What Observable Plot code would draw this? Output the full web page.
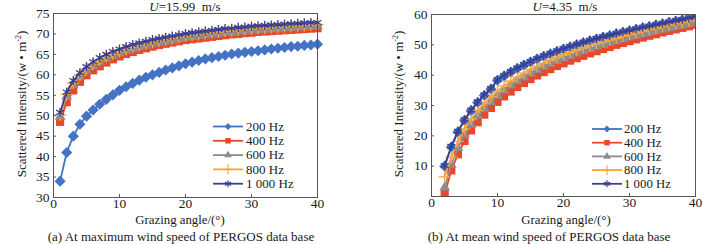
<!DOCTYPE html>
<html><head><meta charset="utf-8">
<script src="https://cdn.jsdelivr.net/npm/d3@7"></script>
<script src="https://cdn.jsdelivr.net/npm/@observablehq/plot@0.6"></script>
<style>
body{margin:0;background:#fff;}
#wrap{position:relative;width:717px;height:244px;overflow:hidden;font-family:"Liberation Serif","Times New Roman",serif;}
#wrap svg{position:absolute;top:0;}
</style></head><body><div id="wrap"></div>
<script>
// ---------- data ----------
const freqs = ["200 Hz", "400 Hz", "600 Hz", "800 Hz", "1 000 Hz"];
const colors = ["#4472c4", "#e8472b", "#8c8c8c", "#f5a43f", "#3b3f91"];
const symbols = ["diamond2", "square", "triangle", "plus", "asterisk"];
const xTicks = [0, 10, 20, 30, 40];
const yTicksA = [30, 35, 40, 45, 50, 55, 60, 65, 70, 75];
const yTicksB = [10, 20, 30, 40, 50, 60];

// panel (a): U = 15.99 m/s, grazing angles 1..40
const anglesA = [1,2,3,4,5,6,7,8,9,10,11,12,13,14,15,16,17,18,19,20,21,22,23,24,25,26,27,28,29,30,31,32,33,34,35,36,37,38,39,40];
const a200 = [34.0,41.0,45.0,47.9,49.9,51.4,52.8,54.0,55.1,56.2,57.1,57.9,58.7,59.4,60.0,60.6,61.2,61.7,62.2,62.7,63.1,63.5,63.9,64.2,64.5,64.8,65.1,65.3,65.5,65.7,65.9,66.1,66.3,66.5,66.7,66.9,67.0,67.2,67.3,67.5];
const a400 = [48.5,53.3,56.2,58.3,59.9,61.1,62.1,63.0,63.8,64.5,65.1,65.6,66.1,66.5,66.9,67.3,67.6,67.9,68.2,68.5,68.7,68.9,69.1,69.3,69.5,69.7,69.9,70.0,70.2,70.3,70.5,70.6,70.7,70.8,70.9,71.0,71.1,71.2,71.3,71.4];
const a600 = [49.8,54.8,57.6,59.5,61.0,62.2,63.2,64.0,64.7,65.3,65.9,66.4,66.8,67.2,67.6,67.9,68.2,68.5,68.8,69.1,69.3,69.5,69.7,69.9,70.1,70.3,70.4,70.6,70.7,70.9,71.0,71.1,71.2,71.3,71.4,71.5,71.6,71.7,71.8,71.9];
const a800 = [50.2,55.2,58.0,59.9,61.4,62.6,63.6,64.4,65.1,65.7,66.3,66.8,67.2,67.6,68.0,68.3,68.6,68.9,69.2,69.5,69.7,69.9,70.1,70.3,70.5,70.7,70.8,71.0,71.1,71.3,71.4,71.5,71.6,71.7,71.8,71.9,72.0,72.1,72.2,72.3];
const a1000 = [50.8,55.8,58.6,60.5,62.0,63.2,64.2,65.0,65.7,66.3,66.9,67.4,67.8,68.2,68.6,68.9,69.2,69.5,69.8,70.1,70.3,70.5,70.7,70.9,71.1,71.3,71.4,71.6,71.7,71.9,72.0,72.1,72.2,72.3,72.4,72.5,72.6,72.7,72.8,72.8];

// panel (b): U = 4.35 m/s, grazing angles 2..40
const anglesB = [2,3,4,5,6,7,8,9,10,11,12,13,14,15,16,17,18,19,20,21,22,23,24,25,26,27,28,29,30,31,32,33,34,35,36,37,38,39,40];
const b200 = [10.0,16.3,21.3,25.1,28.3,31.0,33.3,35.4,38.3,39.7,41.0,42.2,43.3,44.3,45.3,46.2,47.0,47.8,48.6,49.3,50.0,50.7,51.3,51.9,52.5,53.0,53.6,54.1,54.6,55.1,55.6,56.0,56.5,56.9,57.4,57.8,58.2,58.7,59.1];
const b400 = [0.8,8.6,13.9,18.3,21.8,24.5,27.0,29.2,31.2,33.0,34.6,36.1,37.4,38.7,39.9,41.0,42.0,43.0,43.9,44.8,45.6,46.4,47.2,47.9,48.6,49.3,50.0,50.6,51.2,51.8,52.4,53.0,53.5,54.1,54.6,55.1,55.6,56.1,56.6];
const b600 = [3.0,10.5,16.0,20.3,23.7,26.6,29.0,31.2,33.2,35.0,36.6,38.0,39.3,40.6,41.7,42.8,43.8,44.7,45.6,46.4,47.2,48.0,48.7,49.4,50.1,50.7,51.3,51.9,52.5,53.0,53.6,54.1,54.6,55.1,55.6,56.1,56.5,57.0,57.4];
const b800 = [6.5,13.0,18.2,22.3,25.6,28.4,30.8,32.9,34.8,36.5,38.0,39.4,40.7,41.9,43.0,44.0,45.0,45.9,46.8,47.6,48.4,49.1,49.8,50.5,51.1,51.7,52.3,52.9,53.4,54.0,54.5,55.0,55.5,56.0,56.4,56.9,57.3,57.8,58.2];
const b1000 = [10.2,16.5,21.5,25.3,28.5,31.2,33.5,35.6,38.5,39.9,41.2,42.4,43.5,44.5,45.5,46.4,47.2,48.0,48.8,49.5,50.2,50.9,51.5,52.1,52.7,53.2,53.8,54.3,54.8,55.3,55.8,56.2,56.7,57.1,57.6,58.0,58.4,58.9,59.3];

const seriesA = [a200, a400, a600, a800, a1000];
const seriesB = [b200, b400, b600, b800, b1000];

// ---------- helpers ----------
const FONT = "Liberation Serif, Times New Roman, serif";
const INK = "#1a1a1a";
const FRAME = "#555";
const filled = {diamond2: true, square: true, triangle: true, plus: false, asterisk: false};
const radii = {diamond2: 5.0, square: 4.6, triangle: 4.0, plus: 4.0, asterisk: 4.3};

function seriesMarks(angles, series, clip) {
  const marks = [];
  series.forEach((vals, i) => {
    const rows = angles.map((x, j) => ({x, y: vals[j]}));
    marks.push(Plot.line(rows, {x: "x", y: "y", stroke: colors[i], strokeWidth: 1.8, clip}));
    const sym = symbols[i];
    const opts = {x: "x", y: "y", symbol: () => sym, r: radii[sym], clip};
    if (filled[sym]) { opts.fill = colors[i]; opts.stroke = "none"; }
    else { opts.stroke = colors[i]; opts.strokeWidth = 1.3; opts.fill = "none"; }
    marks.push(Plot.dot(rows, opts));
  });
  return marks;
}

function panel({angles, series, yDomain, yTicks, marginLeft, marginRight, marginTop, marginBottom, clip}) {
  const W = 360, H = 244;
  const innerW = W - marginLeft - marginRight;
  const innerH = H - marginTop - marginBottom;
  return Plot.plot({
    width: W, height: H, marginLeft, marginRight, marginTop, marginBottom,
    style: {fontFamily: FONT, fontSize: "13.5px", color: INK, background: "none", overflow: "visible"},
    x: {domain: [0, 40]},
    y: {domain: yDomain},
    marks: [
      ...seriesMarks(angles, series, clip),
      Plot.frame({stroke: FRAME, strokeWidth: 1}),
      Plot.tickX(xTicks, {x: d => d, stroke: FRAME, insetTop: innerH - 3}),
      Plot.tickY(yTicks, {y: d => d, stroke: FRAME, insetRight: innerW - 3}),
      Plot.axisX({ticks: xTicks, tickSize: 0, tickPadding: 1, label: null, fill: INK}),
      Plot.axisY({ticks: yTicks, tickSize: 0, tickPadding: 4, label: null, fill: INK})
    ]
  });
}

const wrap = document.getElementById("wrap");

const pA = panel({angles: anglesA, series: seriesA, yDomain: [30, 75], yTicks: yTicksA,
  marginLeft: 53, marginRight: 43, marginTop: 13, marginBottom: 47, clip: false});
pA.style.left = "0px";
wrap.appendChild(pA);

const pB = panel({angles: anglesB, series: seriesB, yDomain: [0, 60], yTicks: yTicksB,
  marginLeft: 74, marginRight: 22, marginTop: 14, marginBottom: 48, clip: true});
pB.style.left = "357px";
wrap.appendChild(pB);

// ---------- overlay texts & legends ----------
const ov = d3.select(wrap).append("svg")
  .attr("width", 717).attr("height", 244)
  .style("left", "0px")
  .attr("font-family", FONT).attr("fill", INK).attr("font-size", 13);

const panels = [
  {title: "=15.99\u00a0\u00a0m/s", titleX: 185, xlabX: 180, ylabX: 22, caption: "(a) At maximum wind speed of PERGOS data base", capX: 181,
   leg: {x1: 213, x2: 243, tx: 246, y0: 126.5, dy: 14.3, fs: 13}},
  {title: "=4.35\u00a0\u00a0m/s", titleX: 565, xlabX: 566, ylabX: 399, caption: "(b) At mean wind speed of PERGOS data base", capX: 549,
   leg: {x1: 592, x2: 622, tx: 624, y0: 129, dy: 13.7, fs: 12.8}}
];
const legendSize = {diamond2: 30, square: 30, triangle: 26, plus: 34, asterisk: 34};
const d3sym = {diamond2: d3.symbolDiamond2, square: d3.symbolSquare, triangle: d3.symbolTriangle, plus: d3.symbolPlus, asterisk: d3.symbolAsterisk};

panels.forEach(p => {
  const t = ov.append("text").attr("x", p.titleX).attr("y", 11).attr("text-anchor", "middle");
  t.append("tspan").attr("font-style", "italic").text("U");
  t.append("tspan").text(p.title);

  ov.append("text").attr("x", p.xlabX).attr("y", 224).attr("text-anchor", "middle").attr("font-size", 12.8).text("Grazing angle/(\u00b0)");
  ov.append("text").attr("x", p.capX).attr("y", 240.5).attr("text-anchor", "middle").text(p.caption);

  const yl = ov.append("text").attr("transform", `translate(${p.ylabX + 4},104) rotate(-90)`).attr("text-anchor", "middle");
  yl.append("tspan").text("Scattered Intensity/(w \u2022 m");
  yl.append("tspan").attr("font-size", 8).attr("dy", -5).text("-2");
  yl.append("tspan").attr("dy", 5).text(")");

  freqs.forEach((f, i) => {
    const y = p.leg.y0 + i * p.leg.dy;
    ov.append("line").attr("x1", p.leg.x1).attr("x2", p.leg.x2).attr("y1", y).attr("y2", y)
      .attr("stroke", colors[i]).attr("stroke-width", 1.8);
    const sym = symbols[i];
    const path = d3.symbol(d3sym[sym], legendSize[sym])();
    const m = ov.append("path").attr("d", path).attr("transform", `translate(${(p.leg.x1 + p.leg.x2) / 2},${y})`);
    if (filled[sym]) m.attr("fill", colors[i]);
    else m.attr("fill", "none").attr("stroke", colors[i]).attr("stroke-width", 1.2);
    ov.append("text").attr("x", p.leg.tx).attr("y", y + 4.3).attr("font-size", p.leg.fs).text(f);
  });
});
</script>
</body></html>
